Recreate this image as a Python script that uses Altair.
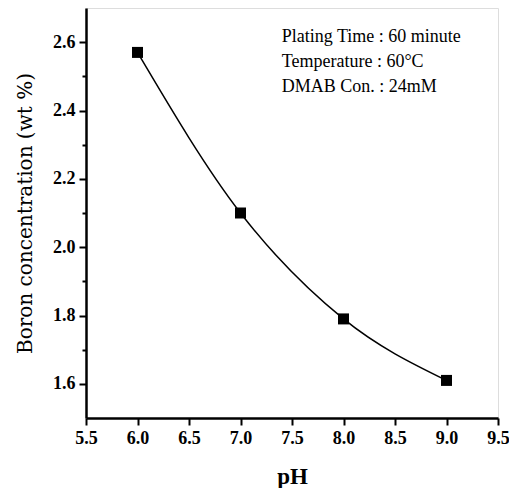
import altair as alt
import pandas as pd

ph = [6.0, 7.0, 8.0, 9.0]
boron = [2.57, 2.10, 1.79, 1.61]

x_ticks = [5.5, 5.75, 6.0, 6.25, 6.5, 6.75, 7.0, 7.25, 7.5, 7.75, 8.0, 8.25, 8.5, 8.75, 9.0, 9.25, 9.5]
y_ticks = [1.6, 1.7, 1.8, 1.9, 2.0, 2.1, 2.2, 2.3, 2.4, 2.5, 2.6]

ann_text = ["Plating Time : 60 minute", "Temperature : 60\u00b0C", "DMAB Con. : 24mM"]
ann_x = [7.4, 7.4, 7.4]
ann_y = [2.615, 2.542, 2.469]

df = pd.DataFrame({"pH": ph, "B": boron})
ann = pd.DataFrame({"t": ann_text, "x": ann_x, "y": ann_y})

FONT = "Liberation Serif"

xminor = "abs(datum.value*2 - round(datum.value*2)) > 0.01"
yminor = "round(datum.value*10) % 2 == 1"

xscale = alt.Scale(domain=[5.5, 9.5], nice=False, zero=False)
yscale = alt.Scale(domain=[1.5, 2.7], nice=False, zero=False)

xaxis = alt.Axis(
    values=x_ticks, title="pH", grid=False,
    labelExpr=f"({xminor}) ? '' : format(datum.value, '.1f')",
    tickSize={"condition": {"test": xminor, "value": 4}, "value": 7},
    tickWidth=2, domainWidth=2.5, domainColor="black", tickColor="black",
    labelFont=FONT, labelFontWeight="bold", labelFontSize=18, labelColor="black",
    labelPadding=4, titleFont=FONT, titleFontWeight="bold", titleFontSize=23,
    titleColor="black", titlePadding=18, labelFlush=False,
)
yaxis = alt.Axis(
    values=y_ticks, title="Boron concentration (wt %)", grid=False,
    labelExpr=f"({yminor}) ? '' : format(datum.value, '.1f')",
    tickSize={"condition": {"test": yminor, "value": 4}, "value": 7},
    tickWidth=2, domainWidth=2.5, domainColor="black", tickColor="black",
    labelFont=FONT, labelFontWeight="bold", labelFontSize=18, labelColor="black",
    labelPadding=4, titleFont="DejaVu Serif", titleFontWeight="normal", titleFontSize=20,
    titleColor="black", titlePadding=17,
)

line = alt.Chart(df).mark_line(interpolate="monotone", color="black", strokeWidth=1.5).encode(
    x=alt.X("pH:Q", scale=xscale, axis=xaxis),
    y=alt.Y("B:Q", scale=yscale, axis=yaxis),
)
pts = alt.Chart(df).mark_point(shape="square", filled=True, color="black", size=121, opacity=1).encode(
    x=alt.X("pH:Q", scale=xscale),
    y=alt.Y("B:Q", scale=yscale),
)
txt = alt.Chart(ann).mark_text(align="left", baseline="middle", font=FONT, fontSize=18, color="black").encode(
    x=alt.X("x:Q", scale=xscale),
    y=alt.Y("y:Q", scale=yscale),
    text="t:N",
)

chart = (line + pts + txt).properties(
    width=412, height=410,
    autosize=alt.AutoSizeParams(type="none"),
    padding={"left": 78, "top": 0, "right": 11, "bottom": 70},
).configure_view(stroke="black", strokeWidth=2.5).configure(background="white")

chart.save("out.html", embed_options={"renderer": "svg", "actions": False})
